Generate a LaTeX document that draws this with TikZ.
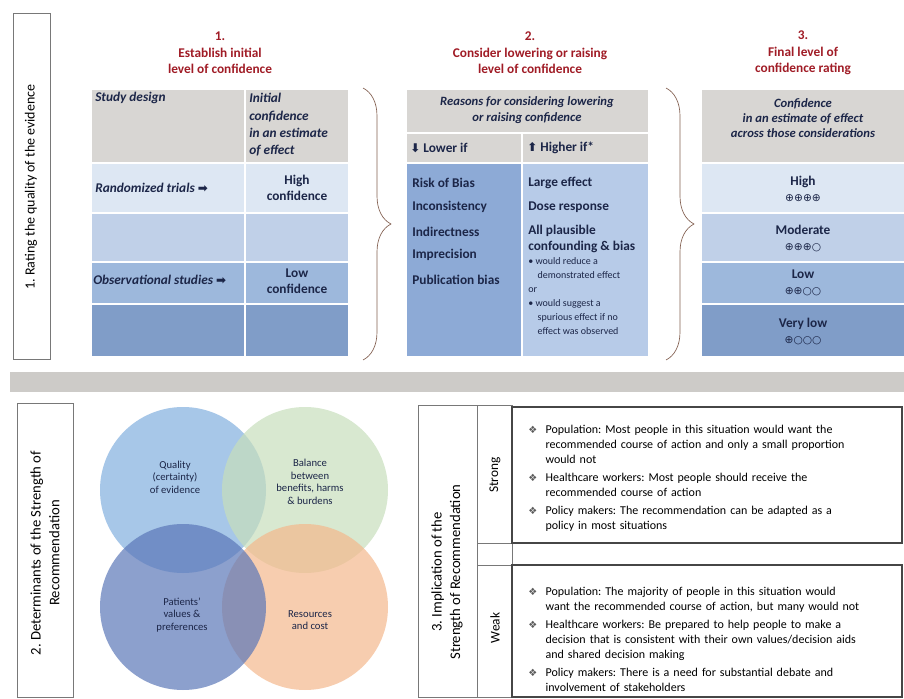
\documentclass[tikz,border=0pt]{standalone}
\usepackage{fontspec}
\setmainfont{Carlito}
\newfontfamily\symf{DejaVu Sans}
\usetikzlibrary{positioning,decorations.pathreplacing}
\frenchspacing

\definecolor{hdrred}{RGB}{160,28,38}
\definecolor{navy}{RGB}{28,38,72}
\definecolor{hdrgray}{RGB}{216,214,211}
\definecolor{rowA}{RGB}{221,231,243}
\definecolor{rowB}{RGB}{192,208,232}
\definecolor{rowC}{RGB}{157,184,220}
\definecolor{rowD}{RGB}{128,157,200}
\definecolor{lowcol}{RGB}{141,170,214}
\definecolor{highcol}{RGB}{183,203,232}
\definecolor{barcol}{RGB}{205,203,200}
\definecolor{bracecol}{RGB}{130,95,80}
\definecolor{linegray}{RGB}{120,120,120}
\definecolor{boxgray}{RGB}{70,70,70}
\definecolor{bulgray}{RGB}{90,90,90}
\definecolor{quality}{RGB}{129,175,222}
\definecolor{balance}{RGB}{199,222,188}
\definecolor{patients}{RGB}{91,119,184}
\definecolor{resources}{RGB}{244,184,141}

\tikzset{
  steptitle/.style={align=center, text=hdrred, font=\fontsize{10}{12.4}\selectfont\bfseries},
  cell/.style={inner sep=0pt, text=navy, font=\fontsize{10}{12}\selectfont\bfseries},
  hdrcell/.style={cell, font=\fontsize{10}{13}\selectfont\bfseries\itshape},
  smallcell/.style={inner sep=0pt, text=navy, align=left, font=\fontsize{7.5}{10.5}\selectfont},
  sidelabel/.style={rotate=90, align=center, font=\fontsize{11}{14}\selectfont},
  vennlabel/.style={align=center, text=navy, font=\fontsize{8}{9.5}\selectfont},
  bodytext/.style={anchor=north west, inner sep=0pt, text width=290pt, align=left,
    font=\fontsize{9}{11.4}\selectfont\setlength{\parskip}{2pt}},
  bigbrace/.style={decorate, decoration={brace, amplitude=21pt}, draw=bracecol, line width=0.5pt},
  venn/.style={fill opacity=0.7},
}

\newcommand\diam{{\symf\fontsize{7.5}{7.5}\selectfont\textcolor{bulgray}{❖}}}
\newcommand\bitem{\par\noindent\hangindent=13pt\hangafter=1\makebox[13pt][l]{\diam}}

\begin{document}
\begin{tikzpicture}[x=0.75pt,y=-0.75pt]
\useasboundingbox (0,0) rectangle (904,699);

% step titles
\node[steptitle] (establish) at (220,53) {1.\\Establish initial\\level of confidence};
\node[steptitle] (consider) at (530,53) {2.\\Consider lowering or raising\\level of confidence};
\node[steptitle] (final) at (803,53) {3.\\Final level of\\confidence rating};

% side label of part 1
\draw[linegray, line width=0.6pt] (13,13) rectangle (50,359);
\node[sidelabel, font=\fontsize{10.5}{13}\selectfont] (rating) at (31,187) {1. Rating the quality of the evidence};

% table 1
\foreach \ya/\yb/\c in {90/163/hdrgray, 163/213/rowA, 213/262/rowB, 262/304/rowC, 304/356/rowD}
  \fill[\c] (92,\ya) rectangle (348,\yb);
\draw[white, line width=0.8pt] (245,90) -- (245,356);
\foreach \y in {163,213,262,304}
  \draw[white, line width=0.8pt] (92,\y) -- (348,\y);

\node[hdrcell, anchor=west] (design) at (95,98) {Study design};
\node[hdrcell, anchor=west, align=left] (initial) at (249,125) {Initial\\confidence\\in an estimate\\of effect};
\node[hdrcell, anchor=west] (randomized) at (95,188) {Randomized trials {\symf\small ➡}};
\node[cell, align=center] (highconf) at (297,188) {High\\confidence};
\node[hdrcell, anchor=west] (observational) at (93,280) {Observational studies {\symf\small ➡}};
\node[cell, align=center] (lowconf) at (297,281) {Low\\confidence};

% braces
\coordinate (b1top) at (363,88);
\coordinate (b1bot) at (363,360);
\coordinate (b2top) at (666,88);
\coordinate (b2bot) at (666,360);
\draw[bigbrace] (b1top) -- (b1bot);
\draw[bigbrace] (b2top) -- (b2bot);

% table 2
\fill[hdrgray] (407,90) rectangle (648,163);
\fill[lowcol] (407,163) rectangle (522,356);
\fill[highcol] (522,163) rectangle (648,356);
\draw[white, line width=0.8pt] (407,133) -- (648,133);
\draw[white, line width=0.8pt] (407,163) -- (648,163);
\draw[white, line width=0.8pt] (522,133) -- (522,356);

\node[hdrcell, align=center, font=\fontsize{9.5}{11.5}\selectfont\bfseries\itshape] (reasons) at (527,110) {Reasons for considering lowering\\or raising confidence};
\node[cell, anchor=west] (lowerif) at (410,148) {{\symf\small ⬇} Lower if};
\node[cell, anchor=west] (higherif) at (527,148) {{\symf\small ⬆} Higher if*};
\foreach \t/\y [count=\i] in {Risk of Bias/183, Inconsistency/207, Indirectness/232, Imprecision/255, Publication bias/280}
  \node[cell, anchor=west] (lower\i) at (412,\y) {\t};
\node[cell, anchor=west] (large) at (528,183) {Large effect};
\node[cell, anchor=west] (dose) at (528,207) {Dose response};
\node[cell, anchor=north west, align=left] (plausible) at (528,225) {All plausible\\confounding \& bias};
\node[smallcell, anchor=north west] (would) at (528,257) {• would reduce a\\\hspace*{7pt}demonstrated effect\\or\\• would suggest a\\\hspace*{7pt}spurious effect if no\\\hspace*{7pt}effect was observed};

% table 3
\foreach \ya/\yb/\c in {90/163/hdrgray, 163/213/rowA, 213/262/rowB, 262/304/rowC, 304/356/rowD}
  \fill[\c] (702,\ya) rectangle (904,\yb);
\foreach \y in {163,213,262,304}
  \draw[white, line width=0.8pt] (702,\y) -- (904,\y);

\node[hdrcell, align=center, font=\fontsize{9.5}{11}\selectfont\bfseries\itshape] (confidence) at (803,118) {Confidence\\in an estimate of effect\\across those considerations};
\foreach \t/\s/\y [count=\i] in {High/⊕⊕⊕⊕/189, Moderate/⊕⊕⊕○/238, Low/⊕⊕○○/283, Very low/⊕○○○/331}
  \node[cell, align=center] (level\i) at (803,\y) {\t\\{\symf\fontsize{8}{10}\selectfont\mdseries\s}};

% separator
\fill[barcol] (10,372) rectangle (904,392);

% part 2
\draw[linegray, line width=0.6pt] (17,403) rectangle (73,697);
\node[sidelabel] (determinants) at (45,553) {2. Determinants of the Strength of\\Recommendation};

\fill[quality, venn] (183,490) circle[radius=83];
\fill[balance, venn] (305,490) circle[radius=83];
\fill[resources, venn] (305,607) circle[radius=83];
\fill[patients, venn] (183,607) circle[radius=83];

\node[vennlabel] (qual) at (175,477) {Quality\\(certainty)\\of evidence};
\node[vennlabel] (bal) at (310,482) {Balance\\between\\benefits, harms\\\& burdens};
\node[vennlabel] (pat) at (182,615) {Patients'\\values \&\\preferences};
\node[vennlabel] (res) at (310,620) {Resources\\and cost};

% part 3
\draw[linegray, line width=0.6pt] (418,405) rectangle (477,697);
\draw[linegray, line width=0.6pt] (477,405) rectangle (512,543);
\draw[linegray, line width=0.6pt] (477,543) rectangle (512,565);
\draw[linegray, line width=0.6pt] (477,565) rectangle (512,697);
\draw[boxgray, line width=1pt] (512,407) rectangle (902,543);
\draw[boxgray, line width=1pt] (512,565) rectangle (902,697);

\node[sidelabel] (implication) at (447,572) {3. Implication of the\\Strength of Recommendation};
\node[sidelabel, font=\fontsize{10}{12}\selectfont] (strong) at (495,475) {Strong};
\node[sidelabel, font=\fontsize{10}{12}\selectfont] (weak) at (495,628) {Weak};

\node[bodytext] (strongtxt) at (528,415) {%
\bitem Population: Most people in this situation would want the\newline recommended course of action and only a small proportion\newline would not
\bitem Healthcare workers: Most people should receive the\newline recommended course of action
\bitem Policy makers: The recommendation can be adapted as a\newline policy in most situations\par};
\node[bodytext] (weaktxt) at (528,577) {%
\bitem Population: The majority of people in this situation would\newline want the recommended course of action, but many would not
\bitem Healthcare workers: Be prepared to help people to make a\newline decision that is consistent with their own values/decision aids\newline and shared decision making
\bitem Policy makers: There is a need for substantial debate and\newline involvement of stakeholders\par};
\end{tikzpicture}
\end{document}
